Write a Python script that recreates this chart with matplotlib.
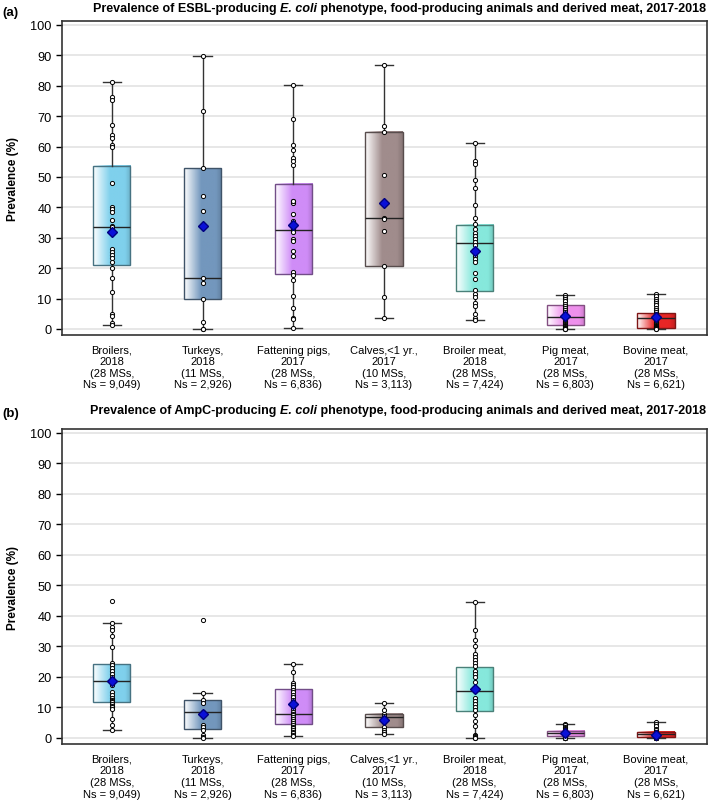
import numpy as np
import matplotlib
matplotlib.use("Agg")
import matplotlib.pyplot as plt
from matplotlib.colors import to_rgb

plt.rcParams['font.family'] = ['Liberation Sans', 'DejaVu Sans']

categories = ["Broilers,\n2018\n(28 MSs,\nNs = 9,049)",
              "Turkeys,\n2018\n(11 MSs,\nNs = 2,926)",
              "Fattening pigs,\n2017\n(28 MSs,\nNs = 6,836)",
              "Calves,<1 yr.,\n2017\n(10 MSs,\nNs = 3,113)",
              "Broiler meat,\n2018\n(28 MSs,\nNs = 7,424)",
              "Pig meat,\n2017\n(28 MSs,\nNs = 6,803)",
              "Bovine meat,\n2017\n(28 MSs,\nNs = 6,621)"]
colors = ["#7fd0ec", "#7397bd", "#cf8cf7", "#a08c8c", "#86e8dc", "#ee90ec", "#e82626"]

# (a) ESBL
esbl_whislo = [1.4, 0.0, 0.2, 3.6, 2.8, 0.0, 0.0]
esbl_q1 = [21.0, 9.9, 17.9, 20.6, 12.5, 1.4, 0.4]
esbl_med = [33.5, 16.7, 32.7, 36.4, 28.1, 3.9, 3.6]
esbl_q3 = [53.7, 53.0, 47.7, 64.7, 34.3, 7.9, 5.3]
esbl_whishi = [81.3, 89.9, 80.3, 86.9, 61.0, 11.1, 11.5]
esbl_mean = [31.8, 33.8, 34.3, 41.4, 25.6, 4.4, 3.8]
esbl_points = [
    [81.3, 76.4, 75.4, 67.2, 63.8, 62.7, 60.5, 59.7, 47.9, 40.2, 39.5, 38.4, 35.9, 34.0,
     33.4, 32.5, 26.3, 25.2, 24.3, 23.3, 21.9, 19.9, 16.7, 12.1, 4.9, 4.2, 1.9, 1.4],
    [89.9, 71.8, 53.0, 43.8, 38.8, 16.7, 15.1, 9.7, 2.2, 0.0, 0.0],
    [80.3, 69.0, 60.5, 58.8, 56.2, 55.1, 53.9, 42.2, 41.4, 42.0, 37.8, 35.5, 34.0, 33.0,
     32.5, 31.9, 29.6, 28.9, 25.6, 24.1, 18.6, 17.8, 16.2, 10.8, 6.8, 3.7, 3.3, 0.2],
    [86.9, 66.8, 64.7, 50.5, 36.6, 36.2, 32.2, 20.6, 10.4, 3.6],
    [61.0, 55.3, 54.2, 49.1, 46.5, 40.9, 36.6, 34.5, 32.9, 31.5, 30.7, 29.5, 28.5, 27.5,
     25.8, 24.0, 23.0, 22.0, 18.5, 16.5, 12.7, 11.5, 10.5, 8.5, 7.5, 5.0, 3.5, 2.8],
    [11.1, 10.5, 9.8, 9.1, 8.3, 7.6, 6.9, 6.2, 5.5, 5.0, 4.4, 3.9, 3.5, 3.0,
     2.6, 2.2, 1.9, 1.6, 1.3, 1.0, 0.8, 0.6, 0.4, 0.3, 0.2, 0.1, 0.0, 0.0],
    [11.5, 10.8, 10.0, 9.3, 8.5, 7.7, 6.9, 6.2, 5.5, 5.0, 4.5, 4.0, 3.6, 3.2,
     2.8, 2.4, 2.0, 1.7, 1.4, 1.1, 0.9, 0.7, 0.5, 0.4, 0.3, 0.2, 0.0, 0.0],
]

# (b) AmpC
ampc_whislo = [2.5, 0.0, 0.7, 1.3, 0.0, 0.0, 0.0]
ampc_q1 = [11.8, 2.8, 4.7, 3.6, 8.9, 0.5, 0.2]
ampc_med = [18.6, 8.5, 8.0, 7.0, 15.3, 1.5, 1.2]
ampc_q3 = [24.2, 12.3, 16.1, 8.0, 23.1, 2.3, 2.0]
ampc_whishi = [37.8, 14.6, 24.2, 11.3, 44.7, 4.7, 5.1]
ampc_mean = [18.7, 7.9, 11.0, 6.0, 16.2, 1.6, 0.9]
ampc_points = [
    [44.8, 37.8, 36.4, 35.3, 33.4, 29.8, 24.6, 24.0, 23.0, 22.1, 21.1, 20.0, 19.0, 18.6,
     17.5, 15.0, 14.0, 13.1, 12.5, 12.0, 11.8, 11.0, 10.5, 10.0, 9.5, 6.1, 4.3, 2.5],
    [38.8, 14.6, 12.5, 11.4, 8.5, 4.4, 3.5, 2.5, 1.0, 0.3, 0.0],
    [24.2, 21.6, 18.1, 17.3, 16.6, 15.8, 15.0, 14.2, 13.4, 12.5, 11.5, 10.5, 9.5, 8.5,
     8.0, 7.5, 6.8, 6.1, 5.5, 4.9, 4.3, 3.7, 3.1, 2.5, 2.0, 1.5, 1.0, 0.7],
    [11.3, 9.0, 8.0, 7.3, 6.6, 5.2, 3.6, 2.6, 1.8, 1.3],
    [44.7, 35.5, 32.0, 30.0, 27.5, 26.5, 25.5, 24.5, 23.5, 22.0, 21.0, 20.0, 18.5, 16.5,
     15.3, 13.0, 12.0, 11.0, 10.0, 9.0, 7.5, 5.5, 4.0, 1.0, 0.5, 0.2, 0.0, 0.0],
    [4.7, 4.2, 3.7, 3.3, 2.9, 2.6, 2.3, 2.0, 1.8, 1.6, 1.5, 1.4, 1.2, 1.0,
     0.9, 0.8, 0.7, 0.6, 0.5, 0.4, 0.3, 0.2, 0.1, 0.1, 0.0, 0.0, 0.0, 0.0],
    [5.1, 4.5, 3.8, 3.0, 2.5, 2.0, 1.8, 1.5, 1.3, 1.2, 1.0, 0.9, 0.8, 0.6,
     0.5, 0.4, 0.3, 0.2, 0.2, 0.1, 0.1, 0.0, 0.0, 0.0, 0.0, 0.0, 0.0, 0.0],
]

BOX_W = 0.41


def gradient(color):
    c = np.array(to_rgb(color))
    t = np.linspace(0, 1, 64)
    mix = np.clip(t / 0.45, 0, 1)
    rgb = (1 - mix)[:, None] * np.ones(3) + mix[:, None] * c
    dark = np.clip((t - 0.85) / 0.15, 0, 1) * 0.15
    rgb = rgb * (1 - dark)[:, None]
    return rgb[None, :, :]


def draw_panel(ax, whislo, q1, med, q3, whishi, mean, points):
    stats = []
    for i in range(len(categories)):
        stats.append(dict(whislo=whislo[i], q1=q1[i], med=med[i], q3=q3[i],
                          whishi=whishi[i], mean=mean[i], fliers=[]))
    pos = np.arange(len(categories))
    for i in pos:
        ax.imshow(gradient(colors[i]), extent=(i - BOX_W / 2, i + BOX_W / 2, q1[i], q3[i]),
                  aspect='auto', zorder=2, interpolation='bilinear')
    bp = ax.bxp(stats, positions=pos, widths=BOX_W, capwidths=0.2, patch_artist=True,
                showmeans=True, manage_ticks=False,
                boxprops=dict(facecolor='none', linewidth=1.0),
                medianprops=dict(color='#222222', linewidth=1.0),
                whiskerprops=dict(color='#333333', linewidth=1.0),
                capprops=dict(color='#333333', linewidth=1.0),
                meanprops=dict(marker='D', markerfacecolor='#0a10d8',
                               markeredgecolor='#000080', markersize=5.5))
    for i, b in enumerate(bp['boxes']):
        b.set_edgecolor(tuple(np.array(to_rgb(colors[i])) * 0.55))
        b.set_zorder(3)
    for k in ['medians', 'whiskers', 'caps']:
        for l in bp[k]:
            l.set_zorder(3)
    for i in pos:
        ax.scatter(np.full(len(points[i]), i), points[i], s=9, facecolor='white',
                   edgecolor='black', linewidth=0.7, zorder=4)
    for m in bp['means']:
        m.set_zorder(5)

    ax.set_xlim(-0.55, 6.56)
    ax.set_ylim(-2, 101.3)
    ax.set_yticks(np.arange(0, 101, 10))
    ax.set_xticks(pos)
    ax.set_xticklabels(categories, fontsize=8, linespacing=1.2)
    ax.tick_params(axis='x', length=0, pad=7)
    ax.tick_params(axis='y', labelsize=9.2, length=4, width=1)
    ax.grid(axis='y', color='#e3e3e3', linewidth=1.2, zorder=0)
    ax.set_axisbelow(True)
    for s in ax.spines.values():
        s.set_linewidth(1.2)
        s.set_color('#333333')
    ax.set_ylabel("Prevalence (%)", fontsize=8.5, fontweight='bold', labelpad=8)


def title(fig, y, first):
    t3 = fig.text(0.996, y, " phenotype, food-producing animals and derived meat, 2017-2018",
                  ha='right', va='baseline', fontsize=9, fontweight='bold')
    t2 = plt.annotate("E. coli", xy=(0, y), xycoords=(t3, 'figure fraction'),
                      ha='right', va='baseline', fontsize=9, fontweight='bold',
                      fontstyle='italic', annotation_clip=False)
    plt.annotate(first, xy=(0, y), xycoords=(t2, 'figure fraction'),
                 ha='right', va='baseline', fontsize=9, fontweight='bold',
                 annotation_clip=False)


fig = plt.figure(figsize=(7.09, 8.03), dpi=100)
ax1 = fig.add_axes([0.0874, 0.5816, 0.9096, 0.391])
ax2 = fig.add_axes([0.0874, 0.0722, 0.9096, 0.3923])

draw_panel(ax1, esbl_whislo, esbl_q1, esbl_med, esbl_q3, esbl_whishi, esbl_mean, esbl_points)
draw_panel(ax2, ampc_whislo, ampc_q1, ampc_med, ampc_q3, ampc_whishi, ampc_mean, ampc_points)

title(fig, 0.985, "Prevalence of ESBL-producing ")
title(fig, 0.484, "Prevalence of AmpC-producing ")
fig.text(0.003, 0.984, "(a)", fontsize=9.5, fontweight='bold', va='center')
fig.text(0.003, 0.484, "(b)", fontsize=9.5, fontweight='bold', va='center')

fig.savefig("out.png", dpi=100)
